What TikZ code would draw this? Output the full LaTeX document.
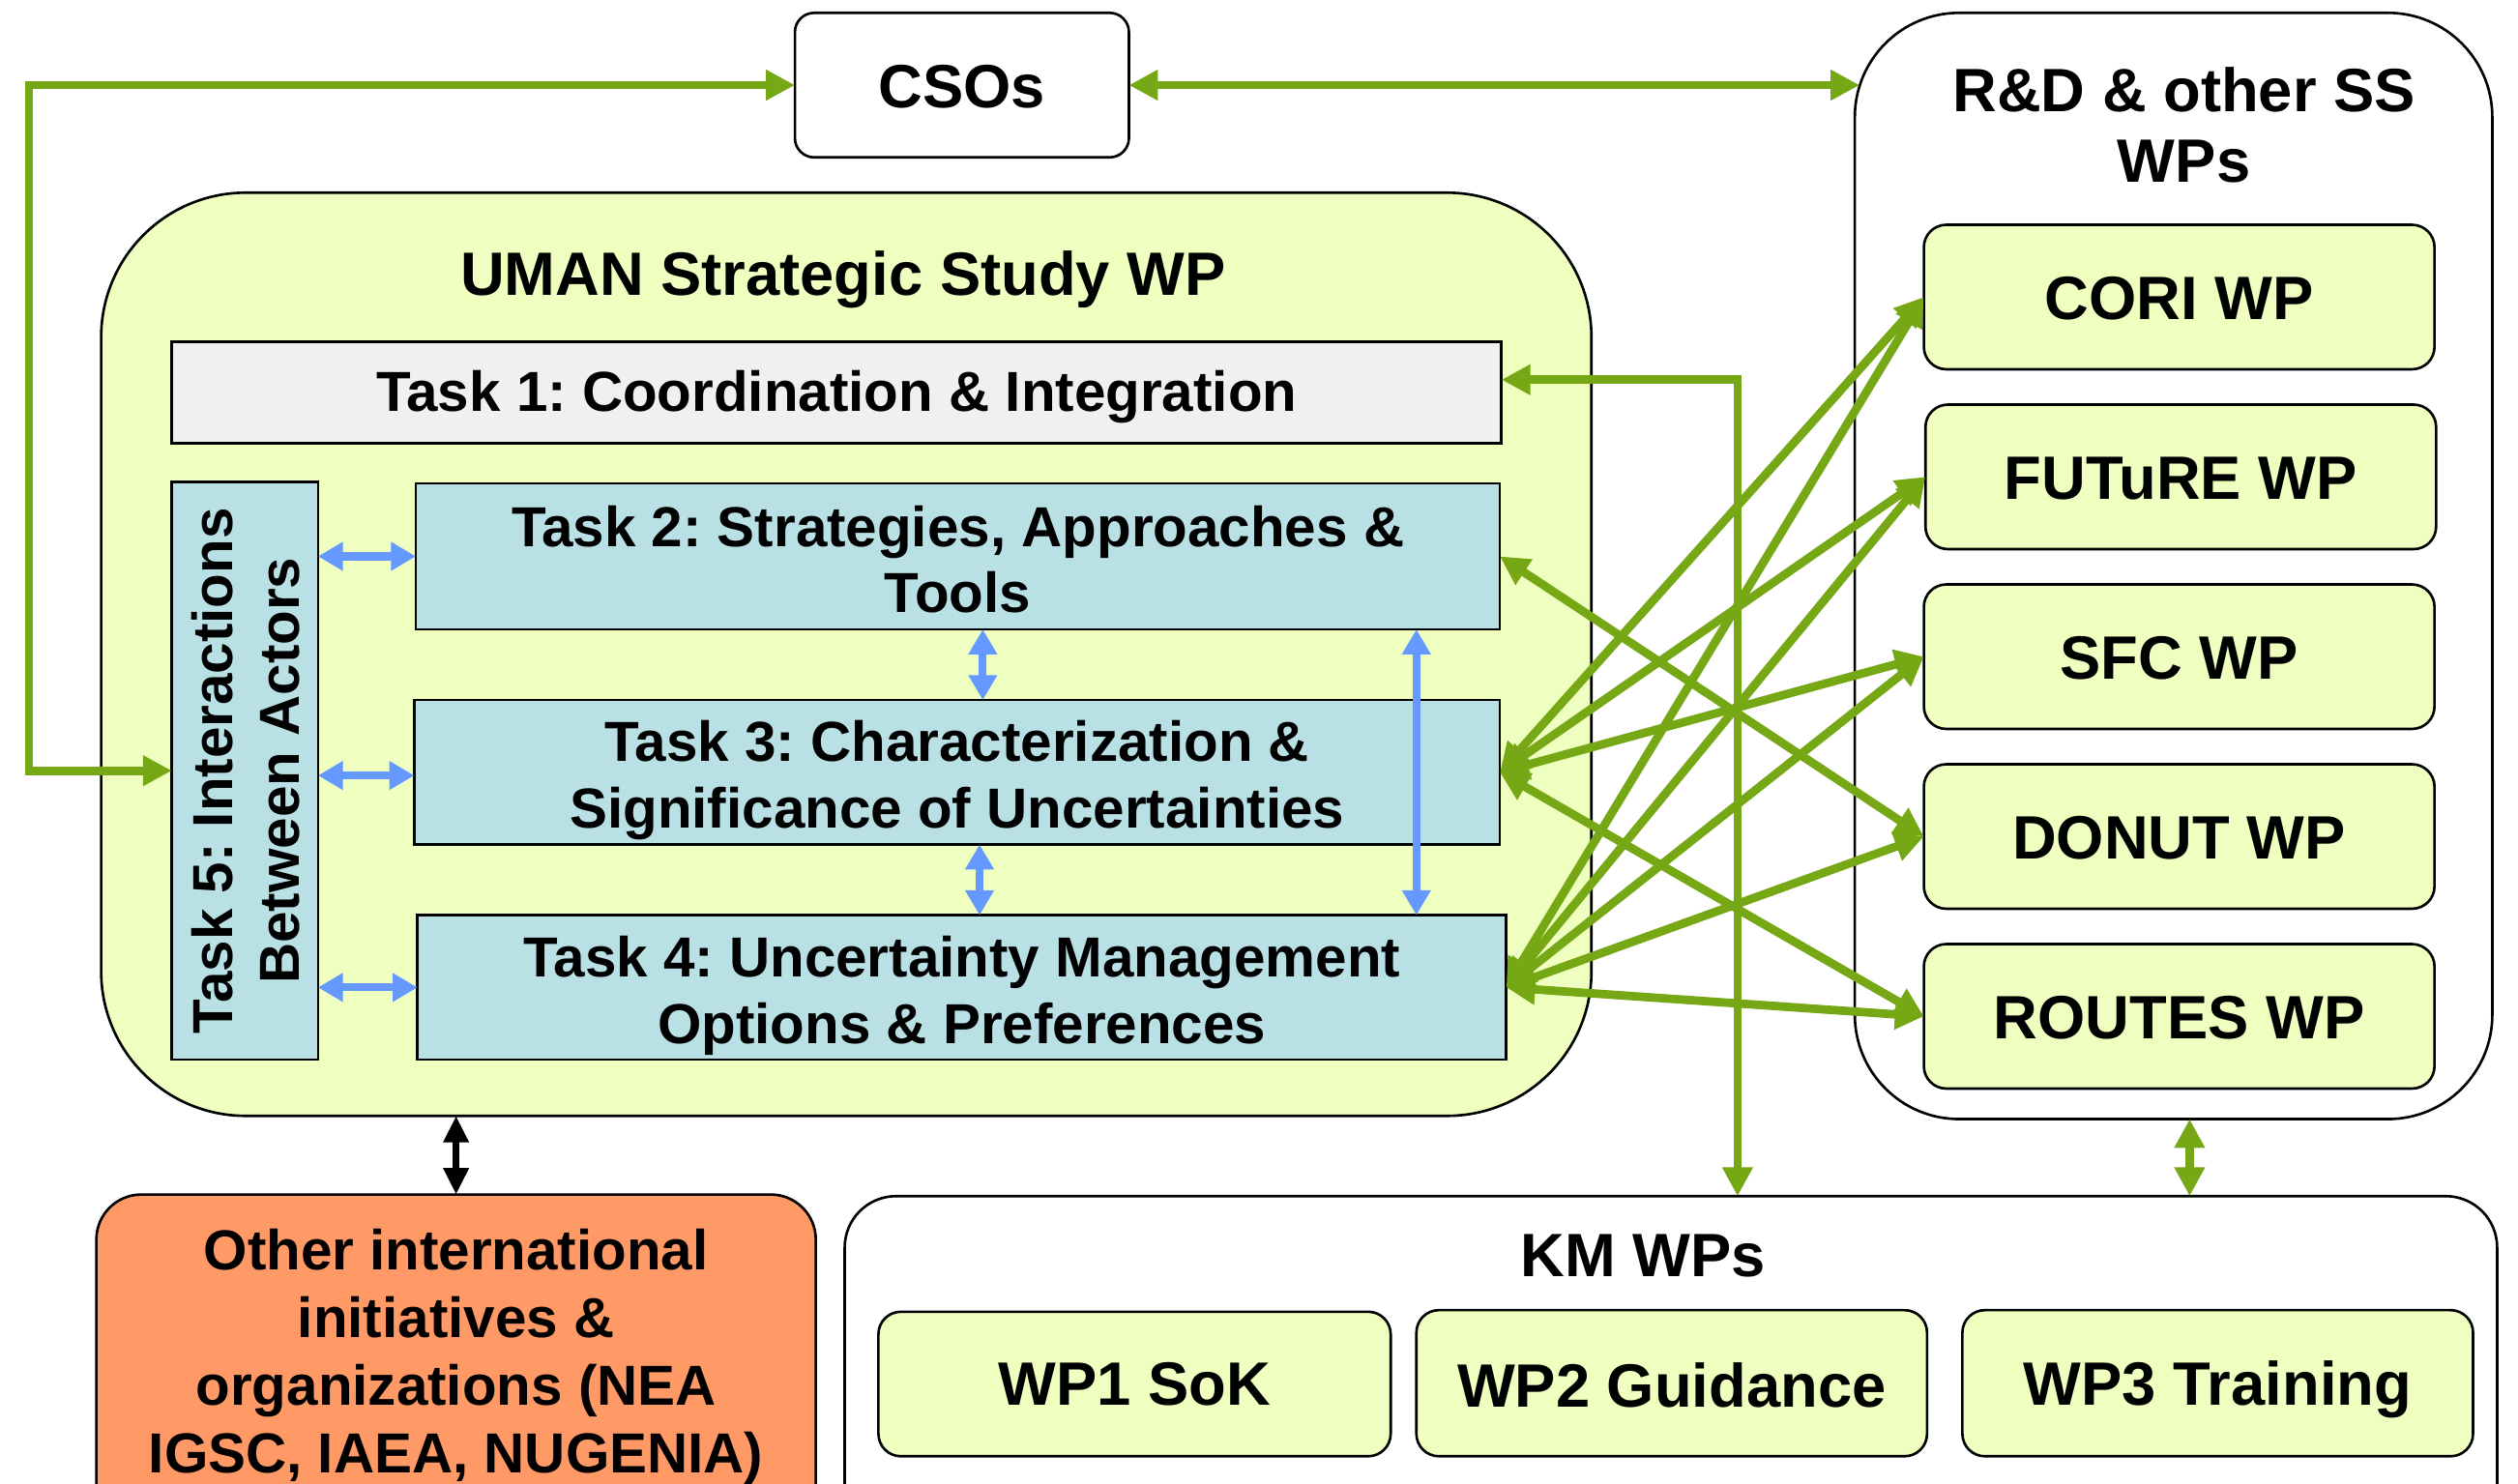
\documentclass[tikz,border=0pt]{standalone}
\usepackage{fontspec}
\setmainfont{Liberation Sans}
\usetikzlibrary{arrows.meta,calc,fit}
\definecolor{lgreen}{RGB}{238,255,192}
\definecolor{tgray}{RGB}{240,240,240}
\definecolor{tblue}{RGB}{185,224,228}
\definecolor{orng}{RGB}{255,153,102}
\definecolor{agreen}{RGB}{118,167,20}
\definecolor{ablue}{RGB}{102,153,255}
\frenchspacing
\begin{document}
\frenchspacing
\begin{tikzpicture}[x=0.02cm,y=-0.02cm,
  boxbase/.style={draw=black, inner sep=0pt, outer sep=0pt, line width=0.9pt},
  tA/.style={font=\fontsize{20}{23.5}\selectfont\bfseries, align=center},
  tB/.style={font=\fontsize{21.7}{25}\selectfont\bfseries, align=center},
  taskbox/.style={boxbase, fill=tblue},
  wpbox/.style={boxbase, fill=lgreen, rounded corners=0.28cm},
  garrow/.style={draw=agreen, line width=3pt, {Triangle[length=0.36cm,width=0.36cm]}-{Triangle[length=0.36cm,width=0.36cm]}},
  barrow/.style={draw=ablue, line width=2.8pt, {Triangle[length=0.31cm,width=0.34cm]}-{Triangle[length=0.31cm,width=0.34cm]}},
  karrow/.style={draw=black, line width=2.6pt, {Triangle[length=0.33cm,width=0.3cm]}-{Triangle[length=0.33cm,width=0.3cm]}}
]
\clip (0,0) rectangle (1568,924);
\fill[white] (0,0) rectangle (1568,924);

% outer containers
\node[boxbase, fill=white, rounded corners=0.24cm, fit={(495,8) (703,98)}] (cso) {};
\node[tB] at ($(cso.center)+(0,1)$) {CSOs};
\node[boxbase, fill=white, rounded corners=1.3cm, fit={(1155,8) (1552,697)}] (rd) {};
\node[tB] (rdt) at (1360,78) {R\&D \& other SS\\WPs};
\node[boxbase, fill=lgreen, rounded corners=1.8cm, fit={(63,120) (991,695)}] (uman) {};
\node[tB] (umant) at (525,174) {UMAN Strategic Study WP};

% tasks
\node[boxbase, fill=tgray, fit={(107,213) (935,276)}] (t1) {};
\node[tA] at ($(t1.center)+(0,3)$) {Task 1: Coordination \& Integration};
\node[taskbox, fit={(107,300) (198,660)}] (t5) {};
\node[tA, rotate=90] (t5t) at (153,480) {Task 5: Interactions\\Between Actors};
\node[taskbox, fit={(259,301) (934,392)}] (t2) {};
\node[tA] at ($(t2.center)+(0,2)$) {Task 2: Strategies, Approaches \&\\Tools};
\node[taskbox, fit={(258,436) (934,526)}] (t3) {};
\node[tA] at ($(t3.center)+(0,5)$) {Task 3: Characterization \&\\Significance of Uncertainties};
\node[taskbox, fit={(260,570) (938,660)}] (t4) {};
\node[tA] at ($(t4.center)+(0,5)$) {Task 4: Uncertainty Management\\Options \& Preferences};

% WPs
\node[wpbox, fit={(1198,140) (1516,230)}] (cori) {};
\node[tB] at ($(cori.center)+(0,1)$) {CORI WP};
\node[wpbox, fit={(1199,252) (1517,342)}] (future) {};
\node[tB] at ($(future.center)+(0,1)$) {FUTuRE WP};
\node[wpbox, fit={(1198,364) (1516,454)}] (sfc) {};
\node[tB] at ($(sfc.center)+(0,1)$) {SFC WP};
\node[wpbox, fit={(1198,476) (1516,566)}] (donut) {};
\node[tB] at ($(donut.center)+(0,1)$) {DONUT WP};
\node[wpbox, fit={(1198,588) (1516,678)}] (routes) {};
\node[tB] at ($(routes.center)+(0,1)$) {ROUTES WP};

% bottom
\node[boxbase, fill=orng, rounded corners=0.56cm, fit={(60,744) (508,980)}] (oth) {};
\node[tA, font=\fontsize{20}{24}\selectfont\bfseries] (otht) at (284,845) {Other international\\initiatives \&\\organizations (NEA\\IGSC, IAEA, NUGENIA)};
\node[boxbase, fill=white, rounded corners=0.64cm, fit={(526,745) (1555,980)}] (km) {};
\node[tB] (kmt) at (1023,782) {KM WPs};
\node[wpbox, fit={(547,817) (866,907)}] (wp1) {};
\node[tB] at (wp1.center) {WP1 SoK};
\node[wpbox, fit={(882,816) (1200,907)}] (wp2) {};
\node[tB] at ($(wp2.center)+(0,1)$) {WP2 Guidance};
\node[wpbox, fit={(1222,816) (1540,907)}] (wp3) {};
\node[tB] at ($(wp3.center)+(0,4)$) {WP3 Training};

% blue arrows
\draw[barrow] (t5.east |- t2.east) -- (t2.west |- t2.east);
\draw[barrow] ($(t5.east |- t3.east)+(0,2)$) -- ($(t3.west |- t3.east)+(0,2)$);
\draw[barrow] (t5.east |- t4.east) -- (t4.west |- t4.east);
\coordinate (b23) at (612,0);
\draw[barrow] (b23 |- t2.south) -- (b23 |- t3.north);
\coordinate (b34) at (610,0);
\draw[barrow] (b34 |- t3.south) -- (b34 |- t4.north);
\coordinate (b24) at (882,0);
\draw[barrow] (b24 |- t2.south) -- (b24 |- t4.north);

% green cross arrows
\foreach \a/\b in {t2/donut, t3/cori, t3/future, t3/sfc, t3/routes, t4/cori, t4/future, t4/sfc, t4/donut, t4/routes}
  \draw[garrow] (\a.east) -- (\b.west);

% other green arrows
\draw[garrow] (t5.west) -- ++(-89,0) |- (cso.west);
\draw[garrow] (cso.east) -- ($(rd.west |- cso.east)+(3,0)$);
\coordinate (t1r) at ($(t1.east)+(0,-8)$);
\coordinate (kmx) at ($(km.north west)+(556,0)$);
\draw[garrow] (t1r) -- (t1r -| kmx) -- (kmx);
\coordinate (rdk) at ($(rd.south)+(10,0)$);
\draw[garrow] (rdk) -- (rdk |- km.north);

% black arrow
\draw[karrow] (oth.north) -- (oth.north |- uman.south);
\end{tikzpicture}
\end{document}
